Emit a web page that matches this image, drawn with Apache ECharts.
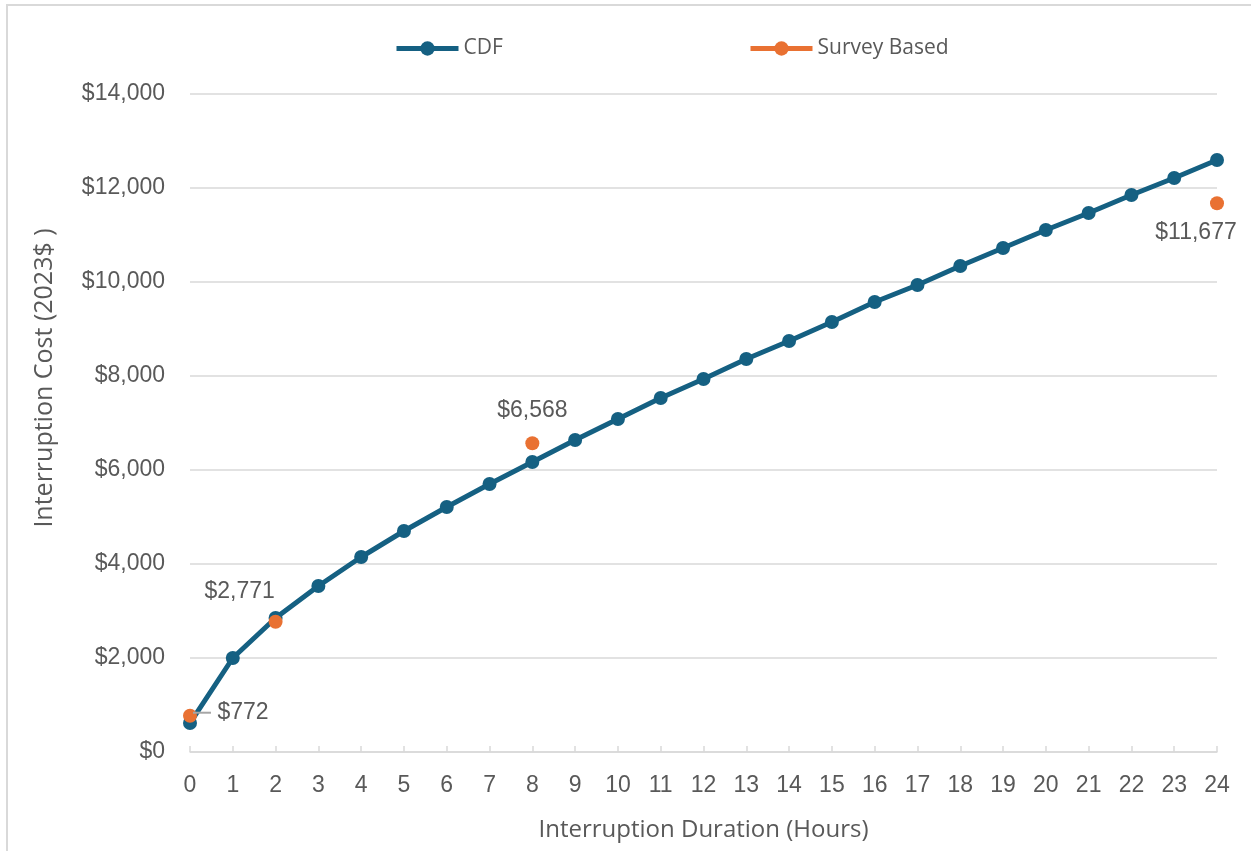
<!DOCTYPE html>
<html>
<head>
<meta charset="utf-8">
<script src="https://cdn.jsdelivr.net/npm/echarts@6/dist/echarts.min.js"></script>
<style>html,body{margin:0;padding:0;background:#fff;}#c{width:1251px;height:851px;}</style>
</head>
<body>
<div id="c"></div>
<script>
const hours = ['0','1','2','3','4','5','6','7','8','9','10','11','12','13','14','15','16','17','18','19','20','21','22','23','24'];
const cdfValues = [617, 2000, 2851, 3532, 4149, 4702, 5213, 5702, 6170, 6638, 7085, 7532, 7936, 8362, 8745, 9149, 9574, 9936, 10340, 10723, 11106, 11468, 11851, 12213, 12596];
const surveyValues = [772, null, 2771, null, null, null, null, null, 6568, null, null, null, null, null, null, null, null, null, null, null, null, null, null, null, 11677];
const yTicks = [0, 2000, 4000, 6000, 8000, 10000, 12000, 14000];
const seriesNames = ['CDF', 'Survey Based'];
const xTitle = 'Interruption Duration (Hours)';
const yTitle = 'Interruption Cost (2023$ )';

const BLUE = '#156082', ORANGE = '#E97132', GRAY = '#595959', GRID = '#D9D9D9';
const TITLE_FONT = '"Open Sans", sans-serif';
const fmt = v => '$' + v.toLocaleString('en-US');

const labelCfg = {
  0: {position: 'right', distance: -4, leader: true},
  2: {position: 'top', offset: [-36, -7]},
  8: {position: 'top', offset: [0, -9]},
  24: {position: 'bottom', offset: [-21, 6]}
};
const surveyData = surveyValues.map((v, i) => {
  if (v === null) return null;
  const c = labelCfg[i];
  const item = {value: v, label: {show: true, position: c.position, distance: c.distance != null ? c.distance : 5,
    formatter: c.leader ? '{ln|} ' + fmt(v) : fmt(v)}};
  if (c.offset) item.label.offset = c.offset;
  if (c.leader) item.label.offset = [0, -3];
  return item;
});

const chart = echarts.init(document.getElementById('c'), null, {renderer: 'canvas'});
chart.setOption({
  animation: false,
  backgroundColor: '#fff',
  textStyle: {fontFamily: '"Liberation Sans", Arial, sans-serif'},
  graphic: [
    {type: 'rect', shape: {x: 7, y: 5, width: 1300, height: 900}, style: {fill: 'none', stroke: '#D9D9D9', lineWidth: 2}, silent: true, z: -10},
    {type: 'text', x: 45, y: 378, rotation: Math.PI / 2, style: {text: yTitle, fill: GRAY, font: '25px ' + TITLE_FONT, align: 'center', verticalAlign: 'middle'}}
  ],
  legend: [
    {data: [seriesNames[0]], left: 394, top: 38, padding: 0, itemWidth: 62, itemHeight: 18, itemGap: 3,
     lineStyle: {width: 5},
     textStyle: {color: GRAY, fontSize: 21, fontFamily: TITLE_FONT}},
    {data: [seriesNames[1]], left: 748, top: 38, padding: 0, itemWidth: 62, itemHeight: 18, itemGap: 3,
     lineStyle: {width: 5},
     textStyle: {color: GRAY, fontSize: 21, fontFamily: TITLE_FONT}}
  ],
  grid: {left: 190, right: 34, top: 94, bottom: 99, containLabel: false},
  xAxis: {
    type: 'category', data: hours, boundaryGap: false,
    name: xTitle, nameLocation: 'middle', nameGap: 66,
    nameTextStyle: {color: GRAY, fontSize: 24, fontFamily: TITLE_FONT},
    axisLine: {lineStyle: {color: GRID, width: 1.5}},
    axisTick: {show: true, inside: true, length: 6, lineStyle: {color: GRID, width: 1.5}},
    axisLabel: {color: GRAY, fontSize: 23, margin: 22, interval: 0},
    splitLine: {show: false}
  },
  yAxis: {
    type: 'value', min: 0, max: 14000, interval: 2000,
    axisLine: {show: false}, axisTick: {show: false},
    axisLabel: {color: GRAY, fontSize: 23, margin: 25, formatter: v => yTicks.includes(v) ? fmt(v) : ''},
    splitLine: {lineStyle: {color: GRID, width: 1.5}}
  },
  series: [
    {name: seriesNames[0], type: 'line', data: cdfValues, symbol: 'circle', symbolSize: 14,
     itemStyle: {color: BLUE}, lineStyle: {color: BLUE, width: 5}, z: 2},
    {name: seriesNames[1], type: 'line', data: surveyData, symbol: 'circle', symbolSize: 14,
     connectNulls: false, itemStyle: {color: ORANGE}, lineStyle: {color: ORANGE, width: 5}, z: 3,
     label: {color: GRAY, fontSize: 23,
       rich: {ln: {width: 18, height: 2, backgroundColor: '#A6A6A6', verticalAlign: 'middle'}}}}
  ]
});
</script>
</body>
</html>
